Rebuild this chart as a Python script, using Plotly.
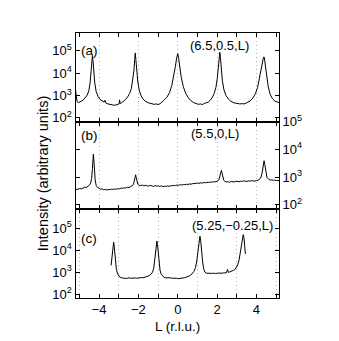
import numpy as np
import plotly.graph_objects as go

# L scans in r.l.u., intensities stored as log10(counts)

# panel (a): (6.5, 0.5, L)
a_l = [-5.20, -5.17, -5.12, -5.05, -4.98, -4.90, -4.80, -4.70, -4.60, -4.52,
       -4.46, -4.41, -4.37, -4.34, -4.31, -4.27, -4.22, -4.15, -4.05, -3.95,
       -3.85, -3.75, -3.70, -3.66, -3.55, -3.45, -3.35, -3.25, -3.15, -3.05,
       -2.98, -2.96, -2.93, -2.85, -2.75, -2.65, -2.55, -2.45, -2.36, -2.29,
       -2.23, -2.19, -2.16, -2.13, -2.09, -2.03, -1.96, -1.88, -1.78, -1.65,
       -1.50, -1.35, -1.20, -1.10, -1.00, -0.90, -0.80, -0.70, -0.55, -0.42,
       -0.30, -0.20, -0.12, -0.05, 0.00, 0.04, 0.10, 0.18, 0.28, 0.40,
       0.52, 0.65, 0.80, 0.95, 1.05, 1.15, 1.25, 1.35, 1.45, 1.55,
       1.65, 1.75, 1.85, 1.94, 2.01, 2.07, 2.11, 2.14, 2.17, 2.21,
       2.27, 2.35, 2.45, 2.57, 2.70, 2.85, 3.00, 3.15, 3.30, 3.42,
       3.48, 3.55, 3.68, 3.82, 3.95, 4.06, 4.15, 4.24, 4.31, 4.36,
       4.40, 4.45, 4.52, 4.60, 4.70, 4.82, 4.95, 5.05, 5.15]
a_log_i = [3.25, 2.95, 2.72, 2.68, 2.70, 2.74, 2.80, 2.90, 3.02, 3.22,
           3.55, 4.05, 4.55, 4.79, 4.55, 4.05, 3.55, 3.18, 2.95, 2.82,
           2.74, 2.70, 2.78, 2.66, 2.62, 2.60, 2.57, 2.56, 2.57, 2.60,
           2.62, 2.80, 2.64, 2.68, 2.74, 2.82, 2.93, 3.08, 3.30, 3.65,
           4.10, 4.60, 4.90, 4.60, 4.10, 3.60, 3.25, 3.02, 2.85, 2.74,
           2.67, 2.63, 2.60, 2.62, 2.59, 2.63, 2.70, 2.78, 2.92, 3.12,
           3.45, 3.85, 4.30, 4.70, 4.87, 4.70, 4.25, 3.80, 3.40, 3.10,
           2.92, 2.78, 2.68, 2.62, 2.60, 2.62, 2.59, 2.64, 2.66, 2.70,
           2.78, 2.90, 3.08, 3.35, 3.75, 4.30, 4.70, 4.93, 4.70, 4.20,
           3.65, 3.25, 3.00, 2.84, 2.74, 2.67, 2.64, 2.62, 2.63, 2.62,
           2.66, 2.68, 2.75, 2.88, 3.08, 3.35, 3.72, 4.15, 4.50, 4.71,
           4.71, 4.40, 3.90, 3.40, 3.05, 2.85, 2.74, 2.70, 2.68]

# panel (b): (5.5, 0, L)
b_l = [-5.20, -5.12, -5.05, -4.98, -4.90, -4.82, -4.74, -4.66, -4.58, -4.50,
       -4.43, -4.38, -4.34, -4.31, -4.29, -4.27, -4.24, -4.20, -4.15, -4.08,
       -4.00, -3.92, -3.84, -3.76, -3.68, -3.60, -3.52, -3.44, -3.36, -3.28,
       -3.20, -3.12, -3.04, -2.96, -2.88, -2.80, -2.72, -2.64, -2.56, -2.48,
       -2.40, -2.32, -2.25, -2.20, -2.16, -2.14, -2.12, -2.08, -2.03, -1.96,
       -1.88, -1.80, -1.72, -1.64, -1.56, -1.48, -1.40, -1.32, -1.24, -1.16,
       -1.08, -1.00, -0.92, -0.84, -0.76, -0.68, -0.60, -0.52, -0.44, -0.36,
       -0.28, -0.20, -0.12, -0.04, 0.04, 0.12, 0.20, 0.28, 0.36, 0.44,
       0.52, 0.60, 0.68, 0.76, 0.84, 0.92, 1.00, 1.08, 1.16, 1.24,
       1.32, 1.40, 1.48, 1.56, 1.64, 1.72, 1.80, 1.88, 1.96, 2.04,
       2.10, 2.15, 2.19, 2.22, 2.25, 2.29, 2.34, 2.40, 2.48, 2.56,
       2.64, 2.72, 2.80, 2.88, 2.96, 3.04, 3.12, 3.20, 3.28, 3.36,
       3.44, 3.52, 3.60, 3.68, 3.76, 3.84, 3.92, 4.00, 4.08, 4.16,
       4.24, 4.30, 4.35, 4.39, 4.43, 4.48, 4.54, 4.62, 4.70, 4.78,
       4.86, 4.94, 5.02, 5.10, 5.15]
b_log_i = [2.54, 2.56, 2.55, 2.58, 2.57, 2.60, 2.63, 2.62, 2.66, 2.70,
           2.78, 2.95, 3.30, 3.65, 3.83, 3.65, 3.25, 2.90, 2.70, 2.62,
           2.59, 2.56, 2.57, 2.54, 2.55, 2.53, 2.55, 2.54, 2.56, 2.55,
           2.57, 2.56, 2.58, 2.57, 2.60, 2.59, 2.61, 2.60, 2.63, 2.62,
           2.65, 2.68, 2.74, 2.86, 3.02, 3.08, 3.00, 2.84, 2.74, 2.70,
           2.69, 2.71, 2.68, 2.70, 2.69, 2.67, 2.70, 2.68, 2.66, 2.69,
           2.67, 2.68, 2.66, 2.68, 2.65, 2.67, 2.66, 2.68, 2.66, 2.69,
           2.68, 2.70, 2.69, 2.71, 2.70, 2.72, 2.71, 2.73, 2.72, 2.74,
           2.73, 2.75, 2.74, 2.76, 2.77, 2.76, 2.78, 2.77, 2.79, 2.78,
           2.80, 2.79, 2.81, 2.80, 2.82, 2.81, 2.83, 2.82, 2.84, 2.86,
           2.92, 3.05, 3.18, 3.24, 3.16, 3.00, 2.88, 2.84, 2.82, 2.83,
           2.81, 2.84, 2.83, 2.82, 2.85, 2.84, 2.83, 2.85, 2.84, 2.86,
           2.85, 2.84, 2.86, 2.85, 2.87, 2.86, 2.85, 2.87, 2.88, 2.92,
           3.00, 3.18, 3.45, 3.59, 3.45, 3.15, 2.98, 2.92, 2.89, 2.90,
           2.88, 2.89, 2.87, 2.88, 2.86]

# panel (c): (5.25, -0.25, L)
c_l = [-3.39, -3.35, -3.31, -3.28, -3.26, -3.24, -3.21, -3.17, -3.12, -3.06,
       -3.00, -2.94, -2.87, -2.80, -2.72, -2.64, -2.56, -2.48, -2.40, -2.32,
       -2.24, -2.16, -2.08, -2.00, -1.92, -1.84, -1.76, -1.68, -1.60, -1.52,
       -1.44, -1.36, -1.28, -1.22, -1.17, -1.13, -1.09, -1.06, -1.03, -0.99,
       -0.95, -0.90, -0.84, -0.77, -0.70, -0.62, -0.54, -0.46, -0.38, -0.30,
       -0.22, -0.14, -0.06, 0.02, 0.10, 0.18, 0.26, 0.34, 0.42, 0.50,
       0.58, 0.66, 0.74, 0.82, 0.90, 0.97, 1.03, 1.08, 1.13, 1.17,
       1.21, 1.26, 1.32, 1.38, 1.45, 1.53, 1.61, 1.69, 1.77, 1.85,
       1.93, 2.01, 2.09, 2.17, 2.25, 2.33, 2.41, 2.48, 2.53, 2.57,
       2.63, 2.70, 2.77, 2.84, 2.91, 2.98, 3.05, 3.12, 3.18, 3.24,
       3.29, 3.33, 3.37, 3.40, 3.44]
c_log_i = [3.30, 3.70, 4.10, 4.30, 4.36, 4.25, 3.90, 3.45, 3.12, 2.92,
           2.82, 2.77, 2.74, 2.72, 2.73, 2.71, 2.72, 2.74, 2.72, 2.73,
           2.71, 2.73, 2.72, 2.74, 2.73, 2.75, 2.74, 2.76, 2.78, 2.80,
           2.84, 2.90, 3.00, 3.18, 3.50, 3.90, 4.25, 4.41, 4.25, 3.85,
           3.40, 3.08, 2.90, 2.80, 2.76, 2.74, 2.75, 2.73, 2.74, 2.72,
           2.73, 2.71, 2.72, 2.70, 2.72, 2.71, 2.73, 2.74, 2.76, 2.79,
           2.82, 2.86, 2.92, 3.02, 3.20, 3.50, 3.95, 4.40, 4.63, 4.40,
           3.95, 3.50, 3.15, 3.00, 2.95, 2.94, 2.95, 2.93, 2.94, 2.95,
           2.93, 2.95, 2.94, 2.96, 2.95, 2.96, 2.98, 2.97, 3.12, 2.99,
           3.00, 3.02, 3.05, 3.08, 3.12, 3.20, 3.32, 3.55, 3.90, 4.30,
           4.62, 4.70, 4.55, 4.20, 3.82]

panel_labels = ['(a)', '(b)', '(c)']
hkl_labels = ['(6.5,0.5,L)', '(5.5,0,L)', '(5.25,\u22120.25,L)']
decades = [100, 1000, 10000, 100000]
decade_text = ['10<sup>2</sup>', '10<sup>3</sup>', '10<sup>4</sup>', '10<sup>5</sup>']

FONT = 'Liberation Sans, Arial, sans-serif'
W, H = 339, 341
GRID = dict(griddash='1px,3px', gridcolor='#b4b4b4', gridwidth=1)


def px(x: float) -> float:
    """pixel column -> paper x"""
    return x / W


def py(y: float) -> float:
    """pixel row -> paper y"""
    return 1 - y / H


fig = go.Figure()
scans = [(a_l, a_log_i), (b_l, b_log_i), (c_l, c_log_i)]
for i, (l_vals, log_vals) in enumerate(scans):
    n = '' if i == 0 else str(i + 1)
    fig.add_trace(go.Scatter(x=l_vals, y=10 ** np.array(log_vals), mode='lines',
                             line=dict(color='black', width=1),
                             xaxis='x' + n, yaxis='y' + n, showlegend=False))

# panel geometry in pixels: (top, bottom, log range)
panels = [(16.7, 108.7, [1.83, 5.79]),
          (108.7, 200.0, [1.83, 5.005]),
          (200.0, 291.7, [1.84, 5.85])]

layout = dict(width=W, height=H, margin=dict(l=0, r=0, t=0, b=0),
              paper_bgcolor='white', plot_bgcolor='white',
              font=dict(family=FONT, size=12.5, color='black'))

for i, (top, bottom, yr) in enumerate(panels):
    n = '' if i == 0 else str(i + 1)
    last = i == 2
    # (a),(b): dotted lines at even L; (c): dotted lines at odd L
    xa = dict(domain=[px(67.5), px(271)], anchor='y' + n, range=[-5.2, 5.15],
              tick0=0, dtick=2, ticks='inside', ticklen=4, tickcolor='black',
              showticklabels=last, showline=True, linecolor='black', linewidth=1,
              mirror='ticks', zeroline=False, showgrid=not last,
              minor=dict(dtick=1, tick0=0, ticks='inside', ticklen=4, tickcolor='black',
                         showgrid=last, **GRID),
              tickfont=dict(size=13), **GRID)
    ya = dict(domain=[py(bottom), py(top)], anchor='x' + n, type='log', range=yr,
              tickvals=decades, ticktext=decade_text, ticks='inside', ticklen=4,
              tickcolor='black', showline=True, linecolor='black', linewidth=1,
              mirror='ticks', showgrid=False, zeroline=False,
              side='right' if i == 1 else 'left', tickfont=dict(size=13))
    layout['xaxis' + n] = xa
    layout['yaxis' + n] = ya

fig.update_layout(**layout)

label_pos = [(81, 35), (81.7, 123), (81, 230)]
hkl_pos = [(211.7, 30), (206.7, 121), (224, 216.7)]
for (lx, ly), text in zip(label_pos, panel_labels):
    fig.add_annotation(x=px(lx), y=py(ly), xref='paper', yref='paper', text=text,
                       showarrow=False, font=dict(size=13.5), xanchor='center', yanchor='middle')
for (hx, hy), text in zip(hkl_pos, hkl_labels):
    fig.add_annotation(x=px(hx), y=py(hy), xref='paper', yref='paper', text=text,
                       showarrow=False, font=dict(size=13), xanchor='center', yanchor='middle')

# axis titles
fig.add_annotation(x=px(169.5), y=py(321.7), xref='paper', yref='paper', text='L (r.l.u.)',
                   showarrow=False, font=dict(size=13.5), xanchor='center', yanchor='middle')
fig.add_annotation(x=px(35), y=py(162.5), xref='paper', yref='paper',
                   text='Intensity (arbitrary units)', textangle=-90,
                   showarrow=False, font=dict(size=14.5), xanchor='center', yanchor='middle')

fig.write_html('out.html')
